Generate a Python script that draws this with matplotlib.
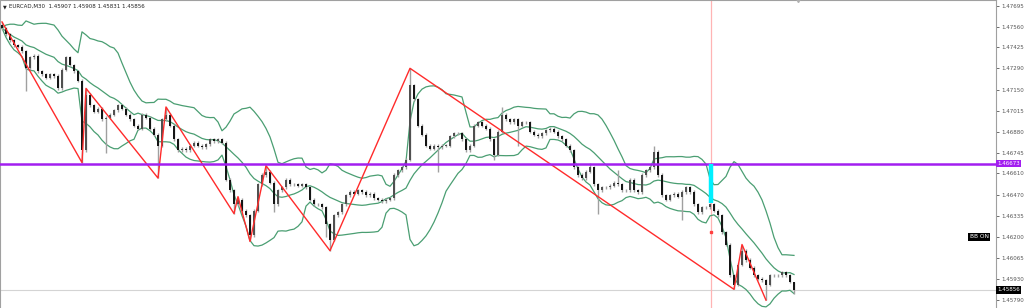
import matplotlib
matplotlib.use("Agg")
import numpy as np
import pandas as pd
import matplotlib.pyplot as plt

# ---------------- data (EURCAD, M30) ----------------
CLOSES = [
    1.4755, 1.4751, 1.4747, 1.4744, 1.4743, 1.4740, 1.4729, 1.4736, 1.4737, 1.4727,
    1.4725, 1.4723, 1.4725, 1.4724, 1.4716, 1.4728, 1.4736, 1.4731, 1.4727, 1.4721,
    1.4676, 1.4712, 1.4705, 1.4701, 1.4703, 1.4696, 1.4697, 1.4699, 1.4702, 1.4705,
    1.4703, 1.4699, 1.4696, 1.4692, 1.4690, 1.4699, 1.4697, 1.4690, 1.4686, 1.4679,
    1.4696, 1.4699, 1.4692, 1.4683, 1.4676, 1.4677, 1.4676, 1.4679, 1.4681, 1.4679,
    1.4678, 1.4680, 1.4683, 1.4682, 1.4683, 1.4681, 1.4657, 1.4650, 1.4641, 1.4644,
    1.4637, 1.4634, 1.4621, 1.4637, 1.4654, 1.4660, 1.4662, 1.4655, 1.4641, 1.4650,
    1.4652, 1.4657, 1.4654, 1.4654, 1.4653, 1.4654, 1.4652, 1.4644, 1.4641, 1.4641,
    1.4639, 1.4628, 1.4618, 1.4634, 1.4636, 1.4641, 1.4647, 1.4649, 1.4648, 1.4650,
    1.4649, 1.4647, 1.4648, 1.4645, 1.4644, 1.4643, 1.4644, 1.4645, 1.4660, 1.4663,
    1.4665, 1.4670, 1.4718, 1.4709, 1.4692, 1.4686, 1.4679, 1.4677, 1.4679, 1.4678,
    1.4679, 1.4679, 1.4685, 1.4687, 1.4687, 1.4683, 1.4676, 1.4679, 1.4692, 1.4694,
    1.4692, 1.4690, 1.4683, 1.4673, 1.4688, 1.4699, 1.4696, 1.4694, 1.4696, 1.4692,
    1.4694, 1.4694, 1.4688, 1.4686, 1.4685, 1.4687, 1.4689, 1.4690, 1.4688, 1.4685,
    1.4683, 1.4679, 1.4676, 1.4665, 1.4660, 1.4658, 1.4662, 1.4665, 1.4654, 1.4650,
    1.4652, 1.4652, 1.4653, 1.4655, 1.4654, 1.4650, 1.4650, 1.4657, 1.4650, 1.4649,
    1.4660, 1.4663, 1.4665, 1.4675, 1.4660, 1.4647, 1.4644, 1.4647, 1.4648, 1.4646,
    1.4649, 1.4652, 1.4649, 1.4641, 1.4636, 1.4639, 1.4639, 1.4641, 1.4637, 1.4634,
    1.4623, 1.4615, 1.4595, 1.4589, 1.4602, 1.4611, 1.4605, 1.4600, 1.4595, 1.4593,
    1.4592, 1.4589, 1.4595, 1.4595, 1.4595, 1.4597, 1.4595, 1.4591, 1.45856,
]
FIRST_OPEN = 1.4757
LAST_BAR = {"open": 1.45907, "high": 1.45908, "low": 1.45831, "close": 1.45856}

WICK_HIGH = {0: 1.4759, 21: 1.4716, 41: 1.4704, 59: 1.4646, 66: 1.4666, 102: 1.4729,
             125: 1.4704, 147: 1.4668, 154: 1.4663, 163: 1.4679, 185: 1.4615}
WICK_LOW = {6: 1.4714, 20: 1.4668, 26: 1.4674, 39: 1.4658, 58: 1.4635, 62: 1.4617,
            68: 1.4636, 81: 1.4620, 82: 1.4611, 109: 1.4662, 123: 1.4670, 129: 1.4679,
            149: 1.4635, 170: 1.4631, 183: 1.4586, 191: 1.4579}

ZIGZAG_IDX = [0, 20, 21, 39, 41, 58, 59, 62, 66, 82, 102, 183, 185, 191]
ZIGZAG_PRICE = [1.4759, 1.4668, 1.4716, 1.4658, 1.4704, 1.4635, 1.4646, 1.4617,
                1.4666, 1.4611, 1.4729, 1.4586, 1.4615, 1.4579]

PRICE_TICKS = [1.47695, 1.47560, 1.47425, 1.47290, 1.47150, 1.47015, 1.46880, 1.46745,
               1.46610, 1.46470, 1.46335, 1.46200, 1.46065, 1.45930, 1.45790]
HLINE_PRICE = 1.46673
CURRENT_PRICE = 1.45856
MARK_BAR = 177.25
MARK_SEG = (1.46673, 1.4642)
MARK_DOT = 1.4623
SYMBOL = "EURCAD,M30"
BB_PERIOD = 14
BB_DEV = 2.0

# ---------------- build OHLC ----------------
closes = np.array(CLOSES)
n = len(closes)
opens = np.concatenate([[FIRST_OPEN], closes[:-1]])
opens[-1] = LAST_BAR["open"]
pad = 0.00010
highs = np.maximum(opens, closes) + pad
lows = np.minimum(opens, closes) - pad
for k, v in WICK_HIGH.items():
    highs[k] = max(highs[k], v)
for k, v in WICK_LOW.items():
    lows[k] = min(lows[k], v)
highs[-1] = LAST_BAR["high"]
lows[-1] = LAST_BAR["low"]
idx = np.arange(n)

s = pd.Series(closes)
mid = s.rolling(BB_PERIOD, min_periods=1).mean()
sd = s.rolling(BB_PERIOD, min_periods=1).std(ddof=0)
upper = mid + BB_DEV * sd
lower = mid - BB_DEV * sd

# ---------------- figure ----------------
W, H = 1024, 308
fig = plt.figure(figsize=(W / 100, H / 100), dpi=100)
fig.patch.set_facecolor("white")
ax = fig.add_axes([0, 0, 996 / W, 1])
ax.set_facecolor("white")

y_top, y_bot = 1.47732, 1.47732 - 308 * 0.0000647
ax.set_ylim(y_bot, y_top)
ax.set_xlim(-0.5, 248.5)

ax.axhline(CURRENT_PRICE, color="#d4d4d4", lw=0.8, zorder=1)
ax.axvline(MARK_BAR, color="#ffb4b4", lw=0.9, zorder=1)

for band in (upper, mid, lower):
    ax.plot(idx, band, color="#4a9e72", lw=0.9, zorder=2)

ax.vlines(idx, lows, highs, color="#a0a0a0", lw=1.0, zorder=3)
body_lo = np.minimum(opens, closes)
body_h = np.maximum(np.abs(closes - opens), 0.00003)
colors = np.where(closes >= opens, "#505050", "#151515")
ax.bar(idx, body_h, bottom=body_lo, width=0.45, color=colors, edgecolor="none", zorder=4)

ax.plot(ZIGZAG_IDX, ZIGZAG_PRICE, color="#ff2b2b", lw=1.0, zorder=5)

ax.axhline(HLINE_PRICE, color="#a21ef0", lw=1.8, zorder=6)

ax.plot([MARK_BAR, MARK_BAR], MARK_SEG, color="#00f0ff", lw=3.2, solid_capstyle="butt", zorder=7)
ax.plot([MARK_BAR], [MARK_DOT], marker="s", ms=2, color="#ff4040", zorder=7)

ax.plot([199], [y_top], marker="v", ms=3, color="#b0b0b0", clip_on=False, zorder=8)

ax.text(0.003, 0.985, "\u25bc", transform=ax.transAxes, fontsize=3.5, va="top", ha="left", color="#222222")
ax.text(0.009, 0.988, f"{SYMBOL}  {LAST_BAR['open']:.5f} {LAST_BAR['high']:.5f} "
        f"{LAST_BAR['low']:.5f} {LAST_BAR['close']:.5f}",
        transform=ax.transAxes, fontsize=4, va="top", ha="left", color="#222222")

ax.text(979 / 996, 1.4620, "BB ON", transform=ax.get_yaxis_transform(), fontsize=4.2,
        color="white", ha="center", va="center",
        bbox=dict(facecolor="black", edgecolor="none", pad=1.2), zorder=9)

for sp in ("left", "top", "right"):
    ax.spines[sp].set_color("#a0a0a0")
    ax.spines[sp].set_linewidth(0.8)
ax.spines["bottom"].set_visible(False)
ax.set_xticks([])
ax.yaxis.tick_right()
ax.set_yticks(PRICE_TICKS)
ax.set_yticklabels([f"{t:.5f}" for t in PRICE_TICKS])
ax.tick_params(axis="y", direction="out", length=2, width=0.6, colors="#555555",
               labelsize=4, pad=1.5)

for price, fc in ((HLINE_PRICE, "#a21ef0"), (CURRENT_PRICE, "black")):
    ax.text(1.0015, price, f"{price:.5f}", transform=ax.get_yaxis_transform(),
            fontsize=4, color="white", ha="left", va="center", clip_on=False,
            bbox=dict(facecolor=fc, edgecolor="none", pad=0.8), zorder=10)

fig.savefig("out.png", dpi=100, facecolor="white")
